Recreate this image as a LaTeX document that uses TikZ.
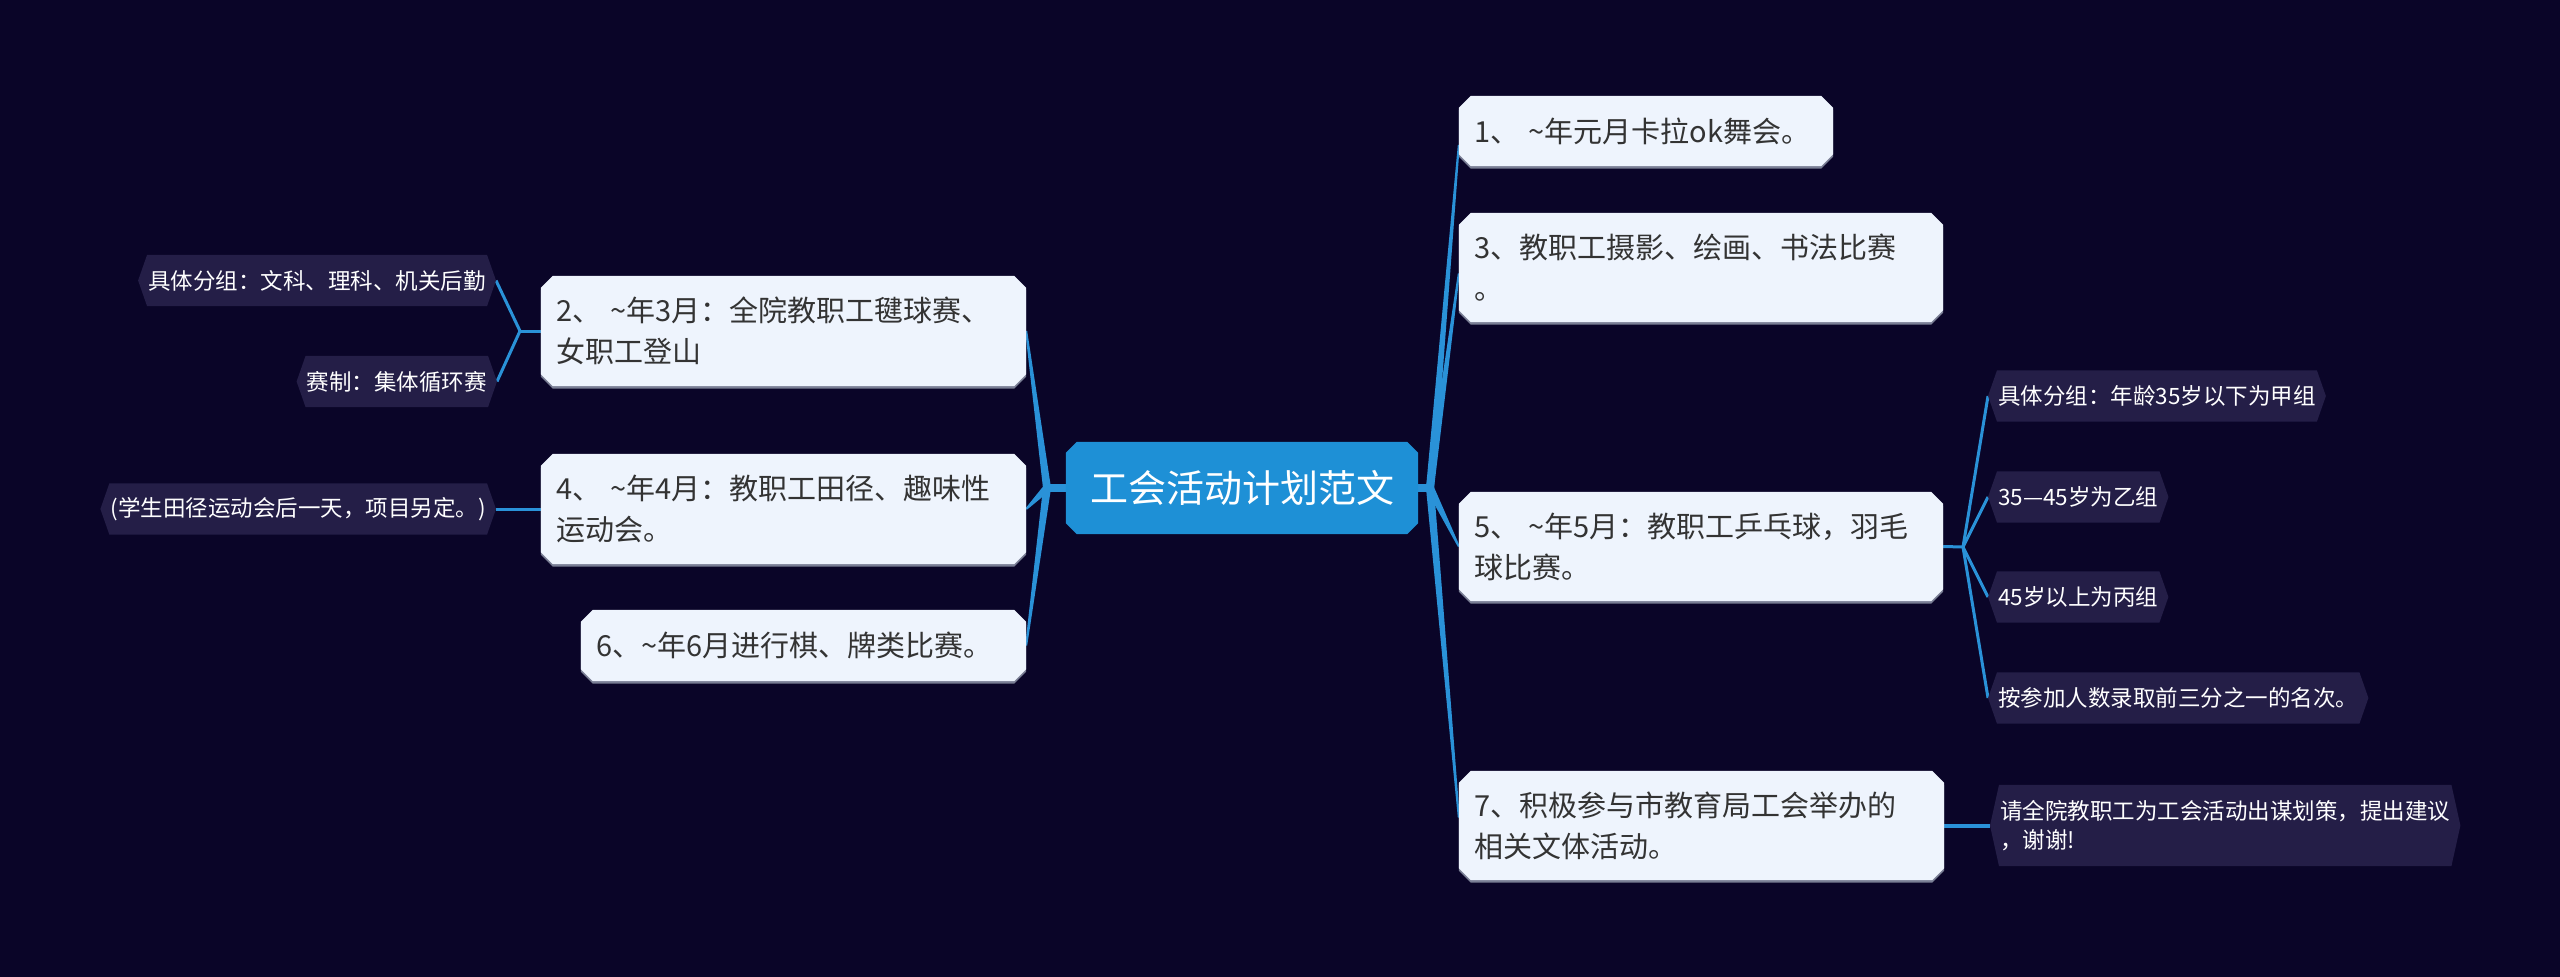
\documentclass[tikz,border=0pt]{standalone}
\usepackage{fontspec}
\setmainfont{Noto Sans CJK SC}
\usetikzlibrary{calc}
\pgfdeclarelayer{bottom}
\pgfdeclarelayer{background}
\pgfsetlayers{bottom,background,main}
\definecolor{bgc}{HTML}{0A0528}
\definecolor{rootc}{HTML}{1E90D6}
\definecolor{mainc}{HTML}{EEF4FD}
\definecolor{subc}{HTML}{241E47}
\definecolor{linec}{HTML}{2A92D8}
\definecolor{txtc}{HTML}{333333}
\definecolor{shadc}{HTML}{7A7F95}
\tikzset{
  rootnode/.style={inner sep=0pt, minimum width=352pt, minimum height=92pt, text=white, font=\fontsize{38pt}{46pt}\selectfont},
  mainnode/.style={inner xsep=15pt, inner ysep=0pt, align=left, text=txtc, font=\fontsize{29pt}{41pt}\selectfont},
  subnode/.style={inner xsep=1pt, inner ysep=0pt, minimum height=51pt, align=left, text=white, font=\fontsize{22.5pt}{29pt}\selectfont},
  conn/.style={fill=linec},
  subconn/.style={draw=linec, line width=3pt},
}
\newcommand\chamfbox[3]{%
  \fill[#3] ([xshift=#2]#1.north west) -- ([xshift=-#2]#1.north east) -- ([yshift=-#2]#1.north east) -- ([yshift=#2]#1.south east) -- ([xshift=-#2]#1.south east) -- ([xshift=#2]#1.south west) -- ([yshift=#2]#1.south west) -- ([yshift=-#2]#1.north west) -- cycle;}
\newcommand\hexbox[1]{%
  \fill[subc] ([xshift=-9pt]#1.west) -- (#1.north west) -- (#1.north east) -- ([xshift=9pt]#1.east) -- (#1.south east) -- (#1.south west) -- cycle;}
\newcommand\taperline[4]{%
  \fill[conn] ($(#1)!#3!90:(#2)$) -- ($(#2)!#4!-90:(#1)$) -- ($(#2)!#4!90:(#1)$) -- ($(#1)!#3!-90:(#2)$) -- cycle;}
\newcommand\tl{\textasciitilde}
\begin{document}
\begin{tikzpicture}[x=1pt,y=-1pt]
\useasboundingbox (0,0) rectangle (2560,977);
\begin{pgfonlayer}{bottom}
  \fill[bgc] (0,0) rectangle (2560,977);
\end{pgfonlayer}

% root
\node[rootnode] (root) at (1242,488) {工会活动计划范文};

% right main nodes
\node[mainnode, text width=344pt, minimum height=70pt] (n1) at (1646,131) {\mbox{1、 \tl{}年元月卡拉ok舞会。}};
\node[mainnode, text width=454pt, minimum height=109pt] (n3) at (1701,267.5) {\mbox{3、教职工摄影、绘画、书法比赛}\\。};
\node[mainnode, text width=454pt, minimum height=109pt] (n5) at (1701,546.5) {\mbox{5、 \tl{}年5月：教职工乒乓球，羽毛}\\球比赛。};
\node[mainnode, text width=455pt, minimum height=109pt] (n7) at (1701.5,825.5) {\mbox{7、积极参与市教育局工会举办的}\\相关文体活动。};

% left main nodes
\node[mainnode, text width=455pt, minimum height=110pt] (n2) at (783.5,331) {\mbox{2、 \tl{}年3月：全院教职工毽球赛、}\\女职工登山};
\node[mainnode, text width=455pt, minimum height=110pt] (n4) at (783.5,509) {\mbox{4、 \tl{}年4月：教职工田径、趣味性}\\运动会。};
\node[mainnode, text width=415pt, minimum height=71pt] (n6) at (803.5,645.5) {\mbox{6、\tl{}年6月进行棋、牌类比赛。}};

% sub nodes left
\node[subnode, anchor=east] (s21) at (487,280.5) {具体分组：文科、理科、机关后勤};
\node[subnode, anchor=east] (s22) at (488,381.5) {赛制：集体循环赛};
\node[subnode, anchor=east] (s41) at (487,509) {(学生田径运动会后一天，项目另定。)};

% sub nodes right
\node[subnode, anchor=west] (s51) at (1997,396) {具体分组：年龄35岁以下为甲组};
\node[subnode, anchor=west] (s52) at (1997,497) {35—45岁为乙组};
\node[subnode, anchor=west] (s53) at (1997,597) {45岁以上为丙组};
\node[subnode, anchor=west] (s54) at (1997,698) {按参加人数录取前三分之一的名次。};
\node[subnode, anchor=west, minimum height=81pt] (s71) at (1999,825.5) {请全院教职工为工会活动出谋划策，提出建议\\，谢谢!};

% connector coordinates
\coordinate (hr) at (1430,488);
\coordinate (hl) at (1047,488);
\coordinate (e1) at ([yshift=-14pt]n1.west);
\coordinate (e3) at ([yshift=-6pt]n3.west);
\coordinate (e5) at (n5.west);
\coordinate (e7) at ([yshift=8pt]n7.west);
\coordinate (e2) at (n2.east);
\coordinate (e4) at (n4.east);
\coordinate (e6) at (n6.east);
\coordinate (h2) at (520,331);
\coordinate (h5) at (1963,547);
\coordinate (t21) at ([xshift=9pt]s21.east);
\coordinate (t22) at ([xshift=9pt]s22.east);
\coordinate (t41) at ([xshift=9pt]s41.east);
\coordinate (t51) at ([xshift=-9pt]s51.west);
\coordinate (t52) at ([xshift=-9pt]s52.west);
\coordinate (t53) at ([xshift=-9pt]s53.west);
\coordinate (t54) at ([xshift=-9pt]s54.west);
\coordinate (t71) at ([xshift=-9pt]s71.west);

\begin{pgfonlayer}{background}
  % root connectors
  \draw[linec, line width=8pt] (root.east) -- (hr);
  \draw[linec, line width=8pt] (root.west) -- (hl);
  \taperline{hr}{e1}{4pt}{1pt}
  \taperline{hr}{e3}{4pt}{1pt}
  \taperline{hr}{e5}{4pt}{1pt}
  \taperline{hr}{e7}{4pt}{1pt}
  \taperline{hl}{e2}{4pt}{1pt}
  \taperline{hl}{e4}{4pt}{1pt}
  \taperline{hl}{e6}{4pt}{1pt}
  % sub connectors
  \draw[subconn] (n2.west) -- (h2);
  \draw[subconn] (h2) -- (t21);
  \draw[subconn] (h2) -- (t22);
  \draw[subconn] (n4.west) -- (t41);
  \draw[subconn] (n5.east) -- (h5);
  \draw[subconn] (h5) -- (t51);
  \draw[subconn] (h5) -- (t52);
  \draw[subconn] (h5) -- (t53);
  \draw[subconn] (h5) -- (t54);
  \draw[subconn, line width=4pt] (n7.east) -- (t71);
  % boxes
  \chamfbox{root}{11pt}{rootc}
  \foreach \n in {n1,n2,n3,n4,n5,n6,n7}{
    \begin{scope}[transform canvas={yshift=-2.5pt}]
      \chamfbox{\n}{12pt}{shadc}
    \end{scope}
    \chamfbox{\n}{12pt}{mainc}
  }
  \foreach \n in {s21,s22,s41,s51,s52,s53,s54,s71}{
    \hexbox{\n}
  }
\end{pgfonlayer}
\end{tikzpicture}
\end{document}
